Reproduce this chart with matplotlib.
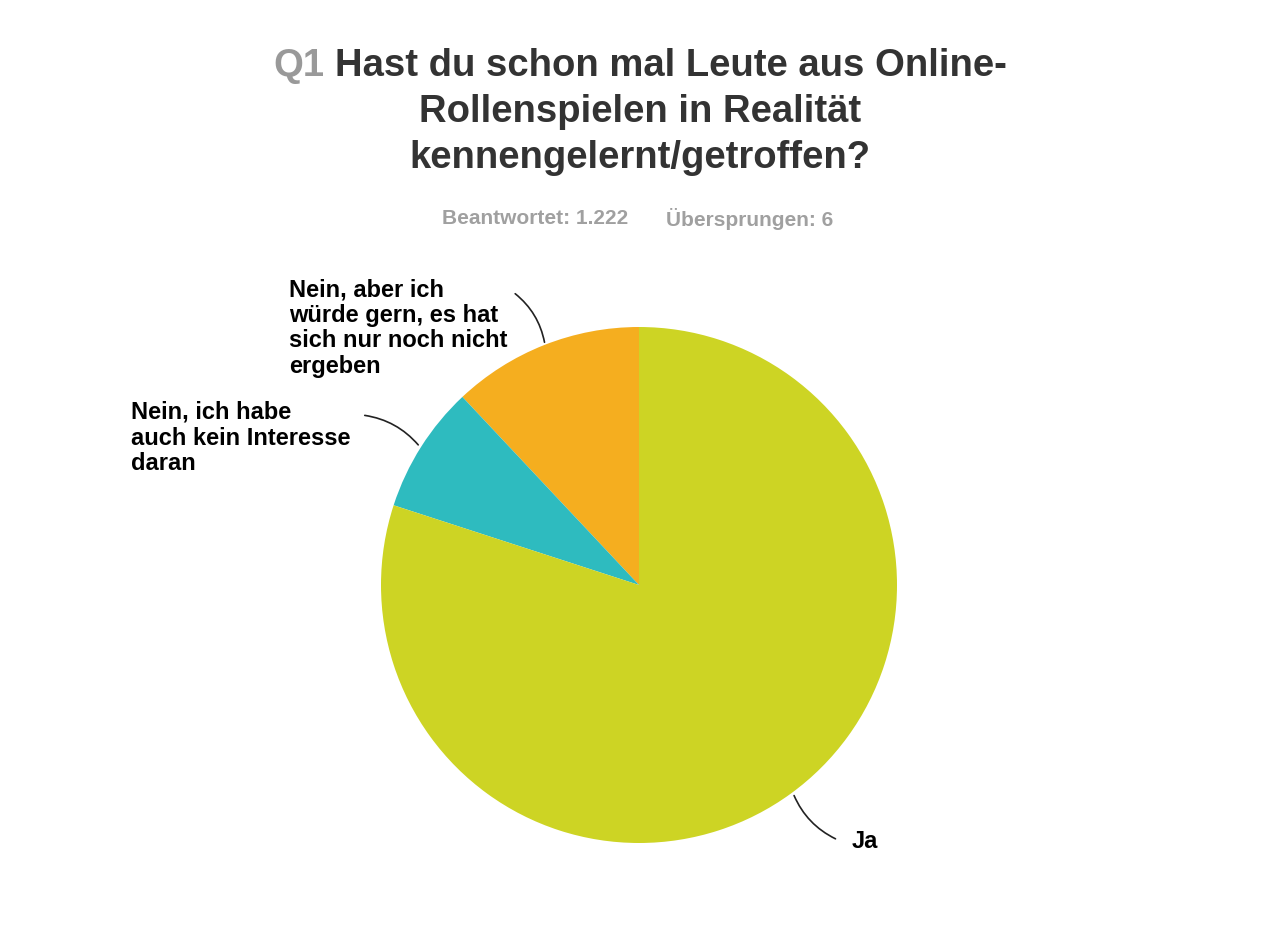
import matplotlib
matplotlib.use("Agg")
import matplotlib.pyplot as plt

plt.rcParams['font.family'] = ['Liberation Sans', 'DejaVu Sans']

labels = ["Nein, aber ich\nwürde gern, es hat\nsich nur noch nicht\nergeben",
          "Nein, ich habe\nauch kein Interesse\ndaran",
          "Ja"]
values = [12, 8, 80]
colors = ['#F5AE1F', '#2EBBBF', '#CDD424']

W, H = 1280, 947
fig = plt.figure(figsize=(12.8, 9.47), dpi=100)

def fx(px): return px / W
def fy(py): return 1 - py / H

# pie axes: centre (639,585), radius 258 px
ax = fig.add_axes([fx(639 - 258), fy(843), 516 / W, 516 / H])
ax.pie(values, colors=colors, startangle=90, counterclock=True,
       wedgeprops=dict(linewidth=0))
ax.set_xlim(-1, 1)
ax.set_ylim(-1, 1)
ax.set_aspect('equal')
ax.axis('off')

# title
dark = '#333333'
tsize = 27.5
probe = fig.text(0.5, fy(66), "Q1 Hast du schon mal Leute aus Online-", ha='center', va='center',
                 fontsize=tsize, fontweight='bold', alpha=0)
fig.canvas.draw()
bb = probe.get_window_extent().transformed(fig.transFigure.inverted())
fig.text(bb.x0, fy(66), "Q1", ha='left', va='center', fontsize=tsize, fontweight='bold', color='#999999')
fig.text(bb.x1, fy(66), "Hast du schon mal Leute aus Online-", ha='right', va='center',
         fontsize=tsize, fontweight='bold', color=dark)
fig.text(0.5, fy(112), "Rollenspielen in Realität", ha='center', va='center',
         fontsize=tsize, fontweight='bold', color=dark)
fig.text(0.5, fy(158), "kennengelernt/getroffen?", ha='center', va='center',
         fontsize=tsize, fontweight='bold', color=dark)

fig.text(fx(535), fy(219), "Beantwortet: 1.222", ha='center', va='center',
         fontsize=15, fontweight='bold', color='#a0a0a0')
fig.text(fx(750), fy(219), "Übersprungen: 6", ha='center', va='center',
         fontsize=15, fontweight='bold', color='#a0a0a0')

# labels with leader lines
lab_pos = [(289, 278, 'left', 'top'), (131, 401, 'left', 'top'), (852, 841, 'left', 'center')]
line_pts = [((545, 345), (513, 292), "arc3,rad=0.2"),
            ((420, 447), (362, 415), "arc3,rad=0.2"),
            ((793, 793), (838, 840), "arc3,rad=0.2")]
for lab, (x, y, ha, va), (p0, p1, cs) in zip(labels, lab_pos, line_pts):
    fig.text(fx(x), fy(y), lab, ha=ha, va=va, fontsize=17, fontweight='bold',
             color='black', linespacing=1.15)
    fig.patches.append(matplotlib.patches.FancyArrowPatch(
        (fx(p0[0]), fy(p0[1])), (fx(p1[0]), fy(p1[1])), transform=fig.transFigure,
        arrowstyle='-', connectionstyle=cs, color='#222222', lw=1.2))

fig.savefig("out.png", dpi=100, facecolor='white')
